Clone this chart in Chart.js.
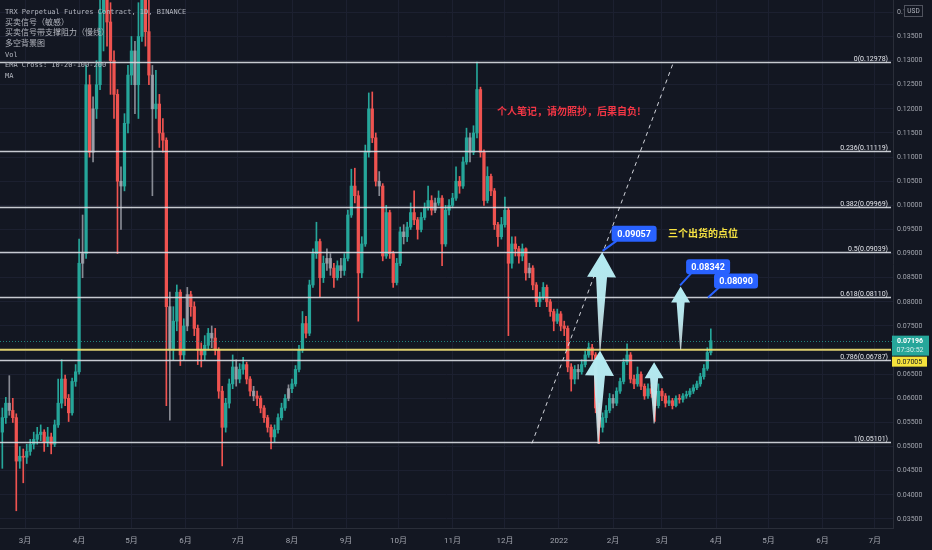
<!DOCTYPE html>
<html>
<head>
<meta charset="utf-8">
<script src="https://cdn.jsdelivr.net/npm/chart.js@4/dist/chart.umd.min.js"></script>
<style>
  html, body { margin: 0; padding: 0; background: #131722; }
  #wrap { position: relative; width: 932px; height: 550px; }
</style>
</head>
<body>
<div id="wrap"><canvas id="chart"></canvas></div>
<script>
// 2日足 (x = 2021-03-01 からの日数)
const firstDay = -13;
const barStep = 2;
const firstOpen = 0.0530;

const closes = [
  0.0560, 0.0590, 0.0575, 0.0560, 0.0470, 0.0480, 0.0478, 0.0490, 0.0505, 0.0515,
  0.0525, 0.0530, 0.0510, 0.0520, 0.0505, 0.0545, 0.0590, 0.0640, 0.0600, 0.0570,
  0.0635, 0.0655, 0.0880, 0.0900, 0.1250, 0.1110, 0.1200, 0.1250, 0.1400, 0.1450,
  0.1380, 0.1300, 0.1230, 0.1050, 0.1040, 0.1170, 0.1270, 0.1320, 0.1250, 0.1350,
  0.1450, 0.1360, 0.1270, 0.1200, 0.1210, 0.1150, 0.1135, 0.0790, 0.0700, 0.0760,
  0.0820, 0.0690, 0.0750, 0.0815, 0.0790, 0.0745, 0.0700, 0.0690, 0.0710, 0.0735,
  0.0725, 0.0700, 0.0615, 0.0540, 0.0590, 0.0630, 0.0665, 0.0640, 0.0660, 0.0670,
  0.0640, 0.0615, 0.0605, 0.0600, 0.0580, 0.0560, 0.0540, 0.0520, 0.0535, 0.0560,
  0.0580, 0.0600, 0.0620, 0.0630, 0.0660, 0.0700, 0.0755, 0.0735, 0.0835, 0.0900,
  0.0925, 0.0850, 0.0880, 0.0890, 0.0870, 0.0850, 0.0875, 0.0865, 0.0890, 0.0980,
  0.1040, 0.1020, 0.0860, 0.0920, 0.1110, 0.1200, 0.1140, 0.1050, 0.1040, 0.0895,
  0.0985, 0.0900, 0.0840, 0.0880, 0.0945, 0.0935, 0.0955, 0.0985, 0.0970, 0.0950,
  0.0975, 0.0995, 0.1010, 0.0990, 0.1005, 0.1015, 0.0920, 0.0990, 0.1000, 0.1015,
  0.1050, 0.1040, 0.1090, 0.1140, 0.1110, 0.1150, 0.1240, 0.1110, 0.1010, 0.1060,
  0.1030, 0.0960, 0.0935, 0.0960, 0.0990, 0.0880, 0.0920, 0.0910, 0.0895, 0.0910,
  0.0860, 0.0870, 0.0835, 0.0800, 0.0810, 0.0830, 0.0800, 0.0780, 0.0760, 0.0775,
  0.0750, 0.0745, 0.0665, 0.0640, 0.0660, 0.0655, 0.0670, 0.0690, 0.0705, 0.0690,
  0.0580, 0.0540, 0.0560, 0.0575, 0.0600, 0.0590, 0.0615, 0.0635, 0.0675, 0.0690,
  0.0640, 0.0630, 0.0650, 0.0625, 0.0605, 0.0620, 0.0610, 0.0585, 0.0615, 0.0605,
  0.0590, 0.0595, 0.0585, 0.0600, 0.0598, 0.0605, 0.0608, 0.0615, 0.0622, 0.0630,
  0.0645, 0.0662, 0.0695, 0.07196
];
const highs = [
  0.0580, 0.0602, 0.0647, 0.0600, 0.0568, 0.0500, 0.0495, 0.0505, 0.0515, 0.0530,
  0.0540, 0.0545, 0.0535, 0.0540, 0.0528, 0.0555, 0.0640, 0.0680, 0.0648, 0.0608,
  0.0642, 0.0670, 0.0930, 0.0980, 0.1290, 0.1270, 0.1225, 0.1300, 0.1600, 0.1750,
  0.1520, 0.1420, 0.1320, 0.1240, 0.1080, 0.1190, 0.1290, 0.1350, 0.1340, 0.1420,
  0.1550, 0.1480, 0.1430, 0.1290, 0.1280, 0.1230, 0.1180, 0.1140, 0.0820, 0.0790,
  0.0835, 0.0825, 0.0765, 0.0830, 0.0822, 0.0800, 0.0752, 0.0715, 0.0730, 0.0745,
  0.0750, 0.0745, 0.0705, 0.0625, 0.0600, 0.0640, 0.0690, 0.0680, 0.0672, 0.0685,
  0.0675, 0.0645, 0.0625, 0.0615, 0.0605, 0.0585, 0.0565, 0.0545, 0.0545, 0.0568,
  0.0590, 0.0608, 0.0628, 0.0640, 0.0668, 0.0710, 0.0780, 0.0770, 0.0845, 0.0910,
  0.0965, 0.0930, 0.0895, 0.0910, 0.0900, 0.0880, 0.0885, 0.0890, 0.0900, 0.0990,
  0.1075, 0.1077, 0.1030, 0.0935, 0.1125, 0.1233, 0.1235, 0.1150, 0.1070, 0.1045,
  0.1000, 0.0990, 0.0905, 0.0890, 0.0955, 0.0960, 0.0965, 0.1005, 0.1030, 0.0975,
  0.0985, 0.1005, 0.1040, 0.1020, 0.1015, 0.1030, 0.1020, 0.1000, 0.1012, 0.1025,
  0.1080, 0.1060, 0.1100, 0.1160, 0.1150, 0.1165, 0.1297, 0.1245, 0.1115, 0.1080,
  0.1065, 0.1035, 0.0965, 0.0975, 0.1017, 0.0995, 0.0935, 0.0935, 0.0915, 0.0920,
  0.0912, 0.0880, 0.0875, 0.0840, 0.0820, 0.0840, 0.0835, 0.0805, 0.0785, 0.0785,
  0.0780, 0.0760, 0.0750, 0.0672, 0.0668, 0.0670, 0.0680, 0.0698, 0.0715, 0.0712,
  0.0695, 0.0590, 0.0570, 0.0585, 0.0610, 0.0608, 0.0622, 0.0642, 0.0682, 0.0713,
  0.0695, 0.0648, 0.0665, 0.0655, 0.0630, 0.0630, 0.0628, 0.0615, 0.0630, 0.0620,
  0.0610, 0.0605, 0.0600, 0.0605, 0.0608, 0.0610, 0.0615, 0.0620, 0.0628, 0.0636,
  0.0652, 0.0670, 0.0705, 0.0744
];
const lows = [
  0.0455, 0.0548, 0.0565, 0.0550, 0.0367, 0.0455, 0.0425, 0.0465, 0.0482, 0.0495,
  0.0505, 0.0512, 0.0490, 0.0500, 0.0485, 0.0500, 0.0540, 0.0580, 0.0585, 0.0552,
  0.0565, 0.0625, 0.0650, 0.0850, 0.0890, 0.1100, 0.1090, 0.1180, 0.1240, 0.1320,
  0.1330, 0.1230, 0.1180, 0.0900, 0.0950, 0.1030, 0.1150, 0.1250, 0.1190, 0.1180,
  0.1340, 0.1330, 0.1250, 0.1020, 0.1180, 0.1120, 0.1110, 0.0585, 0.0555, 0.0680,
  0.0740, 0.0668, 0.0680, 0.0740, 0.0770, 0.0730, 0.0670, 0.0665, 0.0680, 0.0700,
  0.0705, 0.0690, 0.0600, 0.0460, 0.0530, 0.0580, 0.0620, 0.0625, 0.0632, 0.0650,
  0.0630, 0.0605, 0.0595, 0.0585, 0.0570, 0.0550, 0.0530, 0.0495, 0.0510, 0.0528,
  0.0555, 0.0575, 0.0595, 0.0612, 0.0625, 0.0655, 0.0695, 0.0725, 0.0730, 0.0830,
  0.0890, 0.0810, 0.0840, 0.0865, 0.0855, 0.0830, 0.0845, 0.0850, 0.0855, 0.0885,
  0.0975, 0.1005, 0.0760, 0.0850, 0.0915, 0.1100, 0.1130, 0.1040, 0.1020, 0.0885,
  0.0890, 0.0890, 0.0830, 0.0835, 0.0875, 0.0920, 0.0925, 0.0950, 0.0960, 0.0930,
  0.0945, 0.0970, 0.0990, 0.0980, 0.0985, 0.1000, 0.0875, 0.0915, 0.0980, 0.0995,
  0.1010, 0.1025, 0.1035, 0.1085, 0.1090, 0.1105, 0.1140, 0.1100, 0.1000, 0.1005,
  0.1020, 0.0950, 0.0915, 0.0930, 0.0955, 0.0730, 0.0870, 0.0895, 0.0880, 0.0885,
  0.0845, 0.0850, 0.0825, 0.0790, 0.0790, 0.0805, 0.0790, 0.0770, 0.0740, 0.0755,
  0.0740, 0.0730, 0.0655, 0.0615, 0.0630, 0.0640, 0.0650, 0.0665, 0.0685, 0.0680,
  0.0570, 0.0506, 0.0530, 0.0550, 0.0570, 0.0580, 0.0585, 0.0610, 0.0630, 0.0670,
  0.0632, 0.0620, 0.0625, 0.0618, 0.0598, 0.0600, 0.0602, 0.0552, 0.0580, 0.0595,
  0.0582, 0.0585, 0.0578, 0.0582, 0.0590, 0.0592, 0.0600, 0.0603, 0.0610, 0.0618,
  0.0625, 0.0640, 0.0658, 0.0690
];
// 背景インジケーターで灰色になっている足
const grayBars = [2, 23, 26, 34, 38, 43, 48, 53, 60, 67, 72, 82, 93, 94, 97, 108, 115, 124, 134, 151, 165, 175];

const priceTicks = [0.035, 0.040, 0.045, 0.050, 0.055, 0.060, 0.065, 0.070, 0.075, 0.080, 0.085,
  0.090, 0.095, 0.100, 0.105, 0.110, 0.115, 0.120, 0.125, 0.130, 0.135, 0.140];
const monthDays = [0, 31, 61, 92, 122, 153, 184, 214, 245, 275, 306, 337, 365, 396, 426, 457, 487];
const monthLabels = ['3月', '4月', '5月', '6月', '7月', '8月', '9月', '10月', '11月', '12月',
  '2022', '2月', '3月', '4月', '5月', '6月', '7月'];

// フィボナッチ
const fibRatios = ['0', '0.236', '0.382', '0.5', '0.618', '0.786', '1'];
const fibPrices = [0.12978, 0.11119, 0.09969, 0.09039, 0.08110, 0.06787, 0.05101];
const supportPrice = 0.07005;
const lastPrice = 0.07196;
const countdown = '07:30:52';

// 描き込み (日数, 価格)
const trendLine = [[290.5, 0.05067], [371.2, 0.12927]];
const arrows = [
  // [尾 日, 尾 価格, 先 日, 先 価格, 大きさ]
  [328.4, 0.05061, 329.5, 0.0699, 'big'],
  [329.5, 0.0699, 330.7, 0.0903, 'big'],
  [360.5, 0.0548, 360.5, 0.0675, 'small'],
  [375.7, 0.0701, 375.7, 0.0832, 'small']
];
const calloutLabels = ['0.09057', '0.08342', '0.08090'];
const calloutDays = [331.0, 375.4, 391.4];
const calloutPrices = [0.09057, 0.08342, 0.08090];
const notes = [
  ['个人笔记，请勿照抄，后果自负!', 270.5, 0.11941, '#f23645'],
  ['三个出货的点位', 368.5, 0.09420, '#f5e142']
];
const legendLines = [
  ['TRX Perpetual Futures Contract, 1D, BINANCE', 7],
  ['买卖信号（敏感）', 8],
  ['买卖信号带支撑阻力（慢线）', 8],
  ['多空背景图', 8],
  ['Vol', 7],
  ['EMA Cross: 10-20-100-200', 7],
  ['MA', 7]
];

const UP = '#26a69a', DOWN = '#ef5350', GRAY = 'rgba(165,168,176,0.8)';
const opens = closes.map((c, i) => i === 0 ? firstOpen : closes[i - 1]);
const dayOf = i => firstDay + barStep * i;
const barColors = closes.map((c, i) => grayBars.includes(i) ? GRAY : (c >= opens[i] ? UP : DOWN));

function drawArrow(ctx, x1, y1, x2, y2, headW, headH, shaftW) {
  const len = Math.hypot(x2 - x1, y2 - y1);
  const ux = (x2 - x1) / len, uy = (y2 - y1) / len;
  const nx = -uy, ny = ux;
  const bx = x2 - ux * headH, by = y2 - uy * headH;
  const g = ctx.createLinearGradient(x1, y1, x2, y2);
  g.addColorStop(0, 'rgba(235,248,250,0.75)');
  g.addColorStop(0.5, 'rgba(190,238,244,0.95)');
  g.addColorStop(1, 'rgba(178,235,242,1)');
  ctx.fillStyle = g;
  ctx.beginPath();
  ctx.moveTo(x1 + nx * 0.5, y1 + ny * 0.5);
  ctx.lineTo(bx + nx * shaftW / 2, by + ny * shaftW / 2);
  ctx.lineTo(bx + nx * headW / 2, by + ny * headW / 2);
  ctx.lineTo(x2, y2);
  ctx.lineTo(bx - nx * headW / 2, by - ny * headW / 2);
  ctx.lineTo(bx - nx * shaftW / 2, by - ny * shaftW / 2);
  ctx.lineTo(x1 - nx * 0.5, y1 - ny * 0.5);
  ctx.closePath();
  ctx.fill();
}

function roundRect(ctx, x, y, w, h, r) {
  ctx.beginPath();
  ctx.moveTo(x + r, y);
  ctx.arcTo(x + w, y, x + w, y + h, r);
  ctx.arcTo(x + w, y + h, x, y + h, r);
  ctx.arcTo(x, y + h, x, y, r);
  ctx.arcTo(x, y, x + w, y, r);
  ctx.closePath();
}

const overlay = {
  id: 'overlay',
  afterDatasetsDraw(chart) {
    const { ctx, chartArea: a, scales: { x, y } } = chart;
    const X = d => x.getPixelForValue(d);
    const Y = p => y.getPixelForValue(p);
    ctx.save();
    ctx.beginPath();
    ctx.rect(a.left, a.top, a.right - a.left, a.bottom - a.top);
    ctx.clip();

    // 現在値の点線
    ctx.strokeStyle = 'rgba(38,166,154,0.75)';
    ctx.lineWidth = 1;
    ctx.setLineDash([1, 2]);
    ctx.beginPath();
    ctx.moveTo(a.left, Math.round(Y(lastPrice)) + 0.5);
    ctx.lineTo(a.right, Math.round(Y(lastPrice)) + 0.5);
    ctx.stroke();
    ctx.setLineDash([]);

    // 黄色の支持線
    ctx.strokeStyle = 'rgba(232,216,112,0.95)';
    ctx.lineWidth = 2;
    ctx.beginPath();
    ctx.moveTo(a.left, Y(supportPrice));
    ctx.lineTo(a.right - 2, Y(supportPrice));
    ctx.stroke();

    // フィボナッチ
    ctx.font = '7px Roboto';
    ctx.textAlign = 'right';
    ctx.textBaseline = 'alphabetic';
    fibPrices.forEach((p, i) => {
      const py = Math.round(Y(p)) + 0.5;
      ctx.strokeStyle = 'rgba(215,218,225,0.92)';
      ctx.lineWidth = 1.3;
      ctx.beginPath();
      ctx.moveTo(a.left, py);
      ctx.lineTo(a.right - 2, py);
      ctx.stroke();
      ctx.fillStyle = '#e3e5eb';
      ctx.fillText(fibRatios[i] + '(' + p.toFixed(5) + ')', a.right - 5, py - 2);
    });

    // 破線のトレンドライン
    ctx.strokeStyle = 'rgba(230,232,238,0.9)';
    ctx.lineWidth = 1;
    ctx.setLineDash([4, 4]);
    ctx.beginPath();
    ctx.moveTo(X(trendLine[0][0]), Y(trendLine[0][1]));
    ctx.lineTo(X(trendLine[1][0]), Y(trendLine[1][1]));
    ctx.stroke();
    ctx.setLineDash([]);

    // 矢印
    arrows.forEach(([d1, p1, d2, p2, size]) => {
      if (size === 'big') drawArrow(ctx, X(d1), Y(p1), X(d2), Y(p2), 29, 25, 11);
      else drawArrow(ctx, X(d1), Y(p1), X(d2), Y(p2), 19, 16, 8);
    });

    // 吹き出しラベル
    const boxOffsets = [[9, -25, 45, 16], [6, -26, 44, 15], [6, -24, 44, 15]];
    calloutLabels.forEach((label, i) => {
      const ax = X(calloutDays[i]), ay = Y(calloutPrices[i]);
      const [dx, dy, w, h] = boxOffsets[i];
      const bx = ax + dx, by = ay + dy;
      ctx.strokeStyle = '#2962ff';
      ctx.lineWidth = 2;
      ctx.beginPath();
      ctx.moveTo(ax, ay);
      ctx.lineTo(bx + 5, by + h - 1);
      ctx.stroke();
      ctx.fillStyle = '#2962ff';
      roundRect(ctx, bx, by, w, h, 3);
      ctx.fill();
      ctx.fillStyle = '#ffffff';
      ctx.font = 'bold 9px Roboto';
      ctx.textAlign = 'center';
      ctx.textBaseline = 'middle';
      ctx.fillText(label, bx + w / 2, by + h / 2 + 0.5);
    });

    // メモ
    notes.forEach(([text, d, p, color]) => {
      ctx.fillStyle = color;
      ctx.font = 'bold 10px "Noto Sans CJK SC"';
      ctx.textAlign = 'left';
      ctx.textBaseline = 'middle';
      ctx.fillText(text, X(d), Y(p));
    });

    // 左上の凡例
    ctx.fillStyle = '#b2b5be';
    ctx.textAlign = 'left';
    ctx.textBaseline = 'middle';
    legendLines.forEach(([text, size], i) => {
      ctx.font = size + 'px "DejaVu Sans Mono", "Noto Sans CJK SC"';
      ctx.fillText(text, 5, 12 + i * 10.7);
    });
    ctx.restore();
  },
  afterDraw(chart) {
    const { ctx, chartArea: a, scales: { y } } = chart;
    ctx.save();
    const gx = a.right - 1;
    // 現在値タグ
    const py = y.getPixelForValue(lastPrice);
    ctx.fillStyle = UP;
    ctx.fillRect(gx, py - 5, 37, 20);
    ctx.fillStyle = '#ffffff';
    ctx.font = 'bold 7px Roboto';
    ctx.textAlign = 'center';
    ctx.textBaseline = 'middle';
    ctx.fillText(lastPrice.toFixed(5), gx + 18, py + 0.5);
    ctx.fillStyle = 'rgba(255,255,255,0.8)';
    ctx.font = '7px Roboto';
    ctx.fillText(countdown, gx + 18, py + 9.5);
    // 支持線タグ
    ctx.fillStyle = '#f5e23c';
    ctx.fillRect(gx, py + 16, 35, 10);
    ctx.fillStyle = '#131722';
    ctx.fillText(supportPrice.toFixed(5), gx + 17.5, py + 21.5);
    // USD
    ctx.fillStyle = '#131722';
    ctx.fillRect(904, 5, 18, 11);
    ctx.strokeStyle = '#50535e';
    ctx.lineWidth = 1;
    ctx.strokeRect(904.5, 5.5, 18, 11);
    ctx.fillStyle = '#b2b5be';
    ctx.font = '6.5px Roboto';
    ctx.fillText('USD', 913.5, 11.5);
    ctx.restore();
  }
};

new Chart(document.getElementById('chart'), {
  type: 'bar',
  data: {
    datasets: [
      {
        label: 'wick',
        data: closes.map((c, i) => ({ x: dayOf(i), y: [lows[i], highs[i]] })),
        backgroundColor: barColors,
        barThickness: 1,
        grouped: false
      },
      {
        label: 'body',
        data: closes.map((c, i) => ({ x: dayOf(i), y: [opens[i], c] })),
        backgroundColor: barColors,
        barThickness: 2.6,
        minBarLength: 1,
        grouped: false
      }
    ]
  },
  options: {
    responsive: true,
    maintainAspectRatio: false,
    animation: false,
    layout: { padding: 0 },
    plugins: { legend: { display: false }, tooltip: { enabled: false } },
    scales: {
      x: {
        type: 'linear',
        min: -14.33,
        max: 497.4,
        offset: false,
        grid: { color: '#1c2030', offset: false, drawTicks: false },
        border: { color: '#2a2e39' },
        afterBuildTicks: s => { s.ticks = monthDays.map(v => ({ value: v })); },
        afterFit: s => { s.height = 22; s.paddingLeft = 0; s.paddingRight = 0; },
        ticks: {
          autoSkip: false,
          maxRotation: 0,
          padding: 8,
          color: '#a3a6af',
          font: { family: 'Roboto, "Noto Sans CJK SC"', size: 8 },
          callback: (v, i) => monthLabels[i]
        }
      },
      y: {
        position: 'right',
        min: 0.03313,
        max: 0.14256,
        grid: { color: '#1c2030', drawTicks: false },
        border: { color: '#2a2e39' },
        afterBuildTicks: s => { s.ticks = priceTicks.map(v => ({ value: v })); },
        afterFit: s => { s.width = 39; s.paddingTop = 0; s.paddingBottom = 0; },
        ticks: {
          padding: 4,
          color: '#a3a6af',
          font: { family: 'Roboto', size: 7 },
          callback: v => v.toFixed(5)
        }
      }
    }
  },
  plugins: [overlay]
});
</script>
</body>
</html>
